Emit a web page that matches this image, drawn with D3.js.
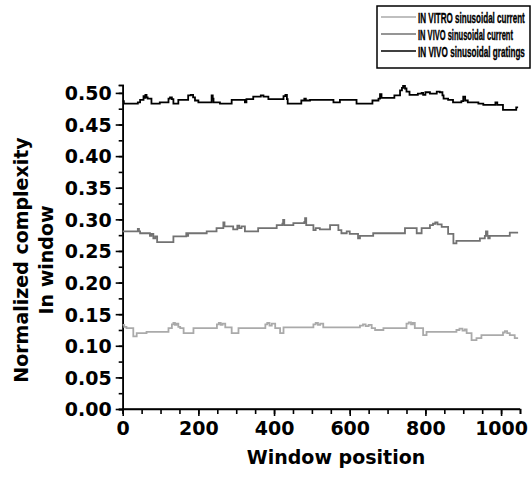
<!DOCTYPE html>
<html lang="en">
<head>
<meta charset="UTF-8">
<title>Normalized complexity in window</title>
<script src="https://d3js.org/d3.v7.min.js"></script>
<style>
  body { margin: 0; background: #fff; }
  svg { display: block; }
  .tick text { font-family: "DejaVu Sans", sans-serif; font-weight: bold; font-size: 19px; fill: #000; }
  .axis path, .axis line { stroke: #000; stroke-width: 1.6px; }
  .title { font-family: "DejaVu Sans", sans-serif; font-weight: bold; font-size: 19px; fill: #000; }
  .legend text { font-family: "Liberation Sans", Arial, sans-serif; font-weight: bold; font-size: 15px; fill: #000; stroke: #000; stroke-width: 0.4px; }
</style>
</head>
<body>
<svg width="532" height="477"></svg>
<script>
// window position vs. normalized complexity (step changes)
const vitroCurrent = [
  [0,0.133],[4,0.130],[10,0.128],[28,0.115],[37,0.120],[63,0.122],[121,0.128],[130,0.134],
  [134,0.136],[138,0.133],[142,0.135],[147,0.130],[152,0.128],[161,0.120],[187,0.128],
  [249,0.134],[254,0.136],[259,0.133],[264,0.135],[271,0.129],[288,0.120],[306,0.128],
  [377,0.134],[382,0.136],[388,0.132],[394,0.135],[403,0.128],[416,0.120],[425,0.129],
  [504,0.134],[510,0.136],[516,0.133],[522,0.135],[530,0.129],[627,0.132],[635,0.134],
  [642,0.131],[650,0.133],[658,0.128],[667,0.125],[689,0.128],[750,0.135],[756,0.137],
  [762,0.134],[767,0.136],[772,0.128],[794,0.117],[803,0.122],[882,0.125],[890,0.127],
  [898,0.124],[904,0.126],[909,0.120],[922,0.109],[935,0.112],[948,0.117],[1005,0.121],
  [1010,0.123],[1016,0.120],[1023,0.117],[1036,0.112],[1045,0.112]
];
const vivoCurrent = [
  [0,0.281],[40,0.285],[43,0.281],[46,0.278],[72,0.274],[76,0.277],[81,0.270],[86,0.273],
  [91,0.264],[134,0.273],[168,0.278],[170,0.274],[173,0.278],[222,0.281],[248,0.286],
  [266,0.295],[269,0.289],[292,0.284],[303,0.290],[308,0.286],[314,0.289],[323,0.281],
  [358,0.286],[407,0.291],[422,0.293],[424,0.299],[427,0.291],[451,0.294],[480,0.296],
  [482,0.302],[485,0.291],[504,0.283],[510,0.286],[521,0.284],[548,0.291],[570,0.283],
  [578,0.278],[592,0.281],[600,0.277],[622,0.270],[627,0.274],[662,0.278],[746,0.286],
  [777,0.278],[790,0.286],[812,0.291],[820,0.293],[826,0.295],[832,0.292],[843,0.288],
  [860,0.277],[874,0.262],[882,0.266],[944,0.270],[957,0.274],[960,0.281],[964,0.274],
  [966,0.270],[970,0.274],[1023,0.279],[1045,0.279]
];
const vivoGratings = [
  [0,0.487],[3,0.483],[40,0.485],[46,0.489],[55,0.495],[57,0.492],[60,0.497],[63,0.493],
  [66,0.491],[76,0.483],[98,0.485],[121,0.491],[125,0.493],[130,0.490],[134,0.483],
  [147,0.489],[173,0.496],[180,0.497],[186,0.493],[191,0.488],[200,0.485],[235,0.496],
  [238,0.491],[240,0.485],[257,0.483],[288,0.489],[323,0.485],[327,0.490],[345,0.494],
  [365,0.496],[372,0.494],[385,0.490],[425,0.495],[430,0.497],[434,0.490],[436,0.483],
  [472,0.488],[480,0.491],[484,0.488],[495,0.489],[557,0.485],[574,0.489],[618,0.483],
  [660,0.488],[676,0.491],[680,0.498],[684,0.492],[718,0.496],[733,0.504],[738,0.508],
  [741,0.511],[746,0.507],[750,0.502],[758,0.497],[780,0.499],[790,0.500],[794,0.497],
  [800,0.501],[812,0.499],[830,0.502],[838,0.501],[845,0.496],[848,0.491],[860,0.489],
  [873,0.485],[895,0.487],[900,0.494],[905,0.488],[912,0.485],[940,0.483],[953,0.481],
  [985,0.485],[990,0.481],[1005,0.473],[1040,0.477],[1045,0.477]
];

const seriesNames = ["IN VITRO sinusoidal current", "IN VIVO sinusoidal current", "IN VIVO sinusoidal gratings"];
const seriesColors = ["#aaaaaa", "#727272", "#000000"];
const seriesData = [vitroCurrent, vivoCurrent, vivoGratings];

const xTicks = [0, 200, 400, 600, 800, 1000];
const yTicks = [0, 0.05, 0.10, 0.15, 0.20, 0.25, 0.30, 0.35, 0.40, 0.45, 0.50];

const svg = d3.select("svg");

const x = d3.scaleLinear().domain([0, 1050]).range([122.7, 520]);
const y = d3.scaleLinear().domain([0, 0.5125]).range([409, 85]);

// minor ticks first, under the major ones
svg.append("g")
  .attr("class", "axis")
  .attr("transform", "translate(0,409)")
  .call(d3.axisBottom(x).tickValues(d3.range(0, 1051, 50)).tickSize(5).tickFormat(""));
svg.append("g")
  .attr("class", "axis")
  .attr("transform", "translate(122.7,0)")
  .call(d3.axisLeft(y).tickValues(d3.range(0, 0.51, 0.025)).tickSize(4).tickFormat(""));

svg.append("g")
  .attr("class", "axis")
  .attr("transform", "translate(0,409)")
  .call(d3.axisBottom(x).tickValues(xTicks).tickSize(7).tickSizeOuter(5).tickPadding(6)
    .tickFormat(d3.format("d")))
  .call(g => g.select(".domain").attr("d", "M122.7,0H520"));

svg.append("g")
  .attr("class", "axis")
  .attr("transform", "translate(122.7,0)")
  .call(d3.axisLeft(y).tickValues(yTicks).tickSize(7).tickSizeOuter(4).tickPadding(4)
    .tickFormat(d3.format(".2f")))
  .call(g => g.selectAll(".tick text").attr("dy", "0.36em"));

const line = d3.line()
  .x(d => x(d[0]))
  .y(d => y(d[1]))
  .curve(d3.curveStepAfter);

svg.append("g")
  .selectAll("path")
  .data(seriesData)
  .join("path")
  .attr("fill", "none")
  .attr("stroke", (d, i) => seriesColors[i])
  .attr("stroke-width", 1.8)
  .attr("d", line);

svg.append("text")
  .attr("class", "title")
  .attr("x", 336)
  .attr("y", 464)
  .attr("text-anchor", "middle")
  .text("Window position");

svg.append("text")
  .attr("class", "title")
  .attr("transform", "translate(28,260) rotate(-90)")
  .attr("text-anchor", "middle")
  .text("Normalized complexity");
svg.append("text")
  .attr("class", "title")
  .attr("transform", "translate(53,260) rotate(-90)")
  .attr("text-anchor", "middle")
  .text("In window");

// legend
const legend = svg.append("g").attr("class", "legend");
legend.append("rect")
  .attr("x", 377).attr("y", 6).attr("width", 153).attr("height", 62)
  .attr("fill", "#fff").attr("stroke", "#000").attr("stroke-width", 1.5);
const legendW = [107, 95, 107];
seriesNames.forEach((name, i) => {
  const ly = 17 + i * 17;
  legend.append("line")
    .attr("x1", 381).attr("x2", 416)
    .attr("y1", ly).attr("y2", ly)
    .attr("stroke", seriesColors[i]).attr("stroke-width", 1.6);
  const t = legend.append("text")
    .attr("y", 5.5)
    .text(name);
  // squeeze the label horizontally to the width it has in the figure
  const sx = legendW[i] / t.node().getComputedTextLength();
  t.attr("transform", `translate(418,${ly}) scale(${sx},1)`);
});
</script>
</body>
</html>
